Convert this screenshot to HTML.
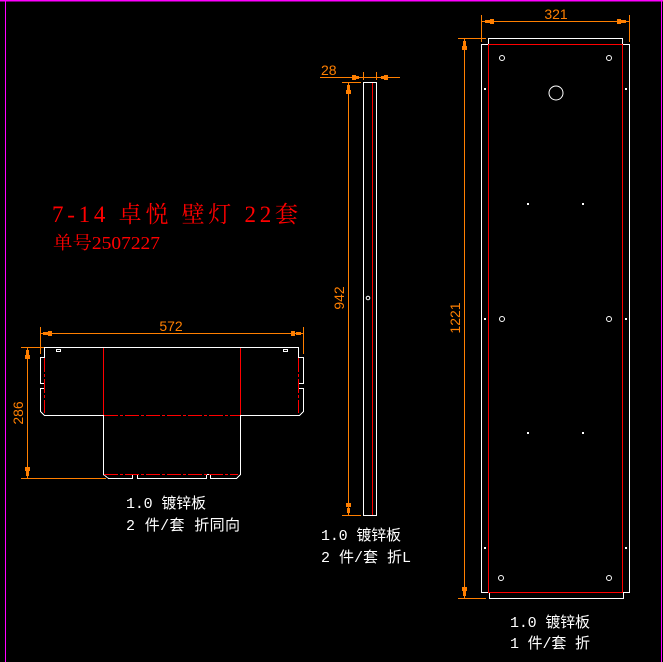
<!DOCTYPE html>
<html><head><meta charset="utf-8"><style>
html,body{margin:0;padding:0;background:#000;}
svg{display:block}
.w{fill:none;stroke:#fff;stroke-width:1}
.r{fill:none;stroke:#f00;stroke-width:1}
.rd{fill:none;stroke:#f00;stroke-width:1;stroke-dasharray:14 2 3 2}
.o{fill:none;stroke:#ff7f00;stroke-width:1}
.of{fill:#ff7f00}
.t{fill:#fff;font-family:"Liberation Mono","Noto Sans CJK SC",monospace;font-size:15px}
.d{fill:#ff7f00;font-family:"Liberation Sans",sans-serif;font-size:14px}
</style></head><body>
<svg width="663" height="662" viewBox="0 0 663 662" xmlns="http://www.w3.org/2000/svg" shape-rendering="crispEdges">
<rect width="663" height="662" fill="#000"/>
<line x1="0" y1="0.5" x2="663" y2="0.5" stroke="#f0f" stroke-width="1.5"/>
<line x1="5.5" y1="0" x2="5.5" y2="662" stroke="#f0f" stroke-width="1.2"/>
<line x1="661.5" y1="0" x2="661.5" y2="662" stroke="#f0f" stroke-width="1.2"/>

<!-- title -->
<text x="52" y="222" fill="#f00" font-family="'Liberation Serif','Noto Serif CJK SC',serif" font-size="23" textLength="246" lengthAdjust="spacing">7-14 卓悦 壁灯 22套</text>
<text x="53" y="249" fill="#f00" font-family="'Liberation Serif','Noto Serif CJK SC',serif" font-size="18" textLength="107" lengthAdjust="spacingAndGlyphs">单号2507227</text>

<!-- left part -->
<path class="w" d="M44.5,357.5 V347.5 H298.5 V357.5 H303.5 V383.5 H298.5 V388.5 H303.5 V411.5 L299.5,415.5 H240.5 V474.5 L236.5,478.5 H210.5 V474.5 H206.5 V478.5 H137.5 V474.5 H132.5 V478.5 H108.5 L103.5,474.5 V415.5 H44.5 L40.5,411.5 V388.5 H44.5 V383.5 H40.5 V357.5 Z"/>
<rect class="w" x="56.5" y="349.5" width="4" height="2"/>
<rect class="w" x="283.5" y="349.5" width="4" height="2"/>
<line class="r" x1="103.5" y1="348" x2="103.5" y2="415"/>
<line class="r" x1="240.5" y1="348" x2="240.5" y2="415"/>
<line class="rd" x1="104" y1="415.5" x2="240" y2="415.5"/>
<line class="rd" x1="104" y1="474.5" x2="238" y2="474.5"/>
<line class="rd" x1="44.5" y1="358" x2="44.5" y2="413"/>
<line class="rd" x1="298.5" y1="358" x2="298.5" y2="413"/>
<!-- dim 572 -->
<line class="o" x1="40" y1="333.5" x2="303" y2="333.5"/>
<line class="o" x1="40.5" y1="327" x2="40.5" y2="354"/>
<line class="o" x1="303.5" y1="327" x2="303.5" y2="354"/>
<rect class="of" x="43" y="332" width="5" height="3"/><rect class="of" x="48" y="331" width="4" height="5"/>
<rect class="of" x="296" y="332" width="5" height="3"/><rect class="of" x="291" y="331" width="4" height="5"/>
<text class="d" x="171" y="331" text-anchor="middle">572</text>
<!-- dim 286 -->
<line class="o" x1="27.5" y1="347" x2="27.5" y2="478"/>
<line class="o" x1="21" y1="347.5" x2="44" y2="347.5"/>
<line class="o" x1="21" y1="478.5" x2="106" y2="478.5"/>
<rect class="of" x="26" y="350" width="3" height="5"/><rect class="of" x="25" y="355" width="5" height="4"/>
<rect class="of" x="26" y="471" width="3" height="5"/><rect class="of" x="25" y="467" width="5" height="4"/>
<text class="d" transform="translate(23,413) rotate(-90)" text-anchor="middle">286</text>
<text class="t" x="126" y="508" textLength="80">1.0 镀锌板</text>
<text class="t" x="126" y="530" textLength="114">2 件/套 折同向</text>

<!-- middle strip -->
<rect class="w" x="363.5" y="82.5" width="13" height="433"/>
<line class="r" x1="372.5" y1="83" x2="372.5" y2="515"/>
<circle cx="368" cy="298" r="1.8" class="w" shape-rendering="auto"/>
<line class="o" x1="320" y1="77.5" x2="400" y2="77.5"/>
<line class="o" x1="363.5" y1="72" x2="363.5" y2="80"/>
<line class="o" x1="376.5" y1="72" x2="376.5" y2="80"/>
<rect class="of" x="352" y="76" width="7" height="3"/><rect class="of" x="352" y="75" width="4" height="5"/>
<rect class="of" x="381" y="76" width="7" height="3"/><rect class="of" x="384" y="75" width="4" height="5"/>
<text class="d" x="321" y="75">28</text>
<line class="o" x1="348.5" y1="82" x2="348.5" y2="515"/>
<line class="o" x1="342" y1="82.5" x2="361" y2="82.5"/>
<line class="o" x1="342" y1="515.5" x2="361" y2="515.5"/>
<rect class="of" x="347" y="85" width="3" height="5"/><rect class="of" x="346" y="90" width="5" height="4"/>
<rect class="of" x="347" y="508" width="3" height="5"/><rect class="of" x="346" y="503" width="5" height="4"/>
<text class="d" transform="translate(344,298) rotate(-90)" text-anchor="middle">942</text>
<text class="t" x="321" y="540" textLength="80">1.0 镀锌板</text>
<text class="t" x="321" y="562" textLength="90">2 件/套 折L</text>

<!-- right panel -->
<path class="w" d="M488.5,44.5 V38.5 H622.5 V44.5 H629.5 V592.5 H623.5 V598.5 H489.5 V592.5 H481.5 V44.5 Z"/>
<rect class="r" x="488.5" y="44.5" width="134" height="548"/>
<g class="w" shape-rendering="auto">
<circle cx="502" cy="58" r="2.5"/><circle cx="609" cy="58" r="2.5"/>
<circle cx="556" cy="93" r="7"/>
<circle cx="502" cy="319" r="2.5"/><circle cx="609" cy="319" r="2.5"/>
<circle cx="501" cy="578" r="2.5"/><circle cx="609" cy="578" r="2.5"/>
</g>
<g fill="#fff">
<rect x="484" y="88" width="2" height="2"/><rect x="625" y="88" width="2" height="2"/>
<rect x="484" y="318" width="2" height="2"/><rect x="625" y="318" width="2" height="2"/>
<rect x="484" y="547" width="2" height="2"/><rect x="625" y="547" width="2" height="2"/>
<rect x="527" y="203" width="2" height="2"/><rect x="582" y="203" width="2" height="2"/>
<rect x="527" y="432" width="2" height="2"/><rect x="582" y="432" width="2" height="2"/>
</g>
<line class="o" x1="481" y1="21.5" x2="629" y2="21.5"/>
<line class="o" x1="481.5" y1="15" x2="481.5" y2="42"/>
<line class="o" x1="629.5" y1="15" x2="629.5" y2="42"/>
<rect class="of" x="485" y="20" width="5" height="3"/><rect class="of" x="490" y="19" width="4" height="5"/>
<rect class="of" x="621" y="20" width="5" height="3"/><rect class="of" x="617" y="19" width="4" height="5"/>
<text class="d" x="556" y="19" text-anchor="middle">321</text>
<line class="o" x1="464.5" y1="38" x2="464.5" y2="598"/>
<line class="o" x1="458" y1="38.5" x2="486" y2="38.5"/>
<line class="o" x1="458" y1="598.5" x2="486" y2="598.5"/>
<rect class="of" x="463" y="41" width="3" height="5"/><rect class="of" x="462" y="46" width="5" height="4"/>
<rect class="of" x="463" y="591" width="3" height="5"/><rect class="of" x="462" y="587" width="5" height="4"/>
<text class="d" transform="translate(460,318) rotate(-90)" text-anchor="middle">1221</text>
<text class="t" x="510" y="627" textLength="80">1.0 镀锌板</text>
<text class="t" x="510" y="648" textLength="80">1 件/套 折</text>
</svg>
</body></html>
